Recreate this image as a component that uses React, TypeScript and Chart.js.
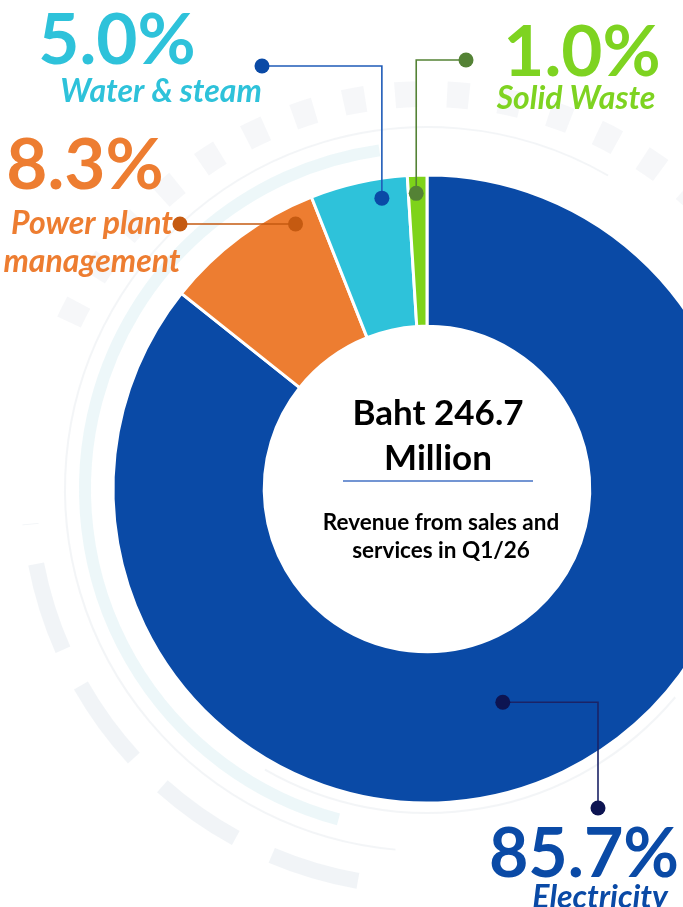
import { useEffect, useRef } from "react";
import { Chart, registerables } from "chart.js";

Chart.register(...registerables);

// ---- data ----
const categories = ["Electricity", "Power plant management", "Water & steam", "Solid Waste"];
const shares = [85.7, 8.3, 5.0, 1.0];
const percentLabels = ["85.7%", "8.3%", "5.0%", "1.0%"];
const categoryLines = [["Electricity"], ["Power plant", "management"], ["Water & steam"], ["Solid Waste"]];
const totalLines = ["Baht 246.7", "Million"];
const subtitleLines = ["Revenue from sales and", "services in Q1/26"];

// ---- styling / layout ----
const segmentColors = ["#0A4AA6", "#ED7D31", "#2EC2DA", "#7ED31A"];
const textColors = ["#0A4AA6", "#ED7D31", "#2EC2DA", "#7ED321"];
const dotColors = ["#0D1452", "#C55A11", "#0A4AA6", "#548235"];
const lineColors = ["#1B2366", "#C55A11", "#1F5BB8", "#548235"];

type Callout = {
  f: number;
  g: number;
  mode: "hv" | "vh" | "h";
  endX: number;
  endY: number;
  pct: { x: number; y: number };
  cat: { x: number; y: number; lh: number };
};

const callouts: Callout[] = [
  { f: 0.52, g: 0.42, mode: "hv", endX: 598, endY: 808, pct: { x: 584, y: 877 }, cat: { x: 600, y: 908, lh: 0 } },
  { f: 0.84, g: 0.88, mode: "h", endX: 180, endY: 0, pct: { x: 85, y: 189 }, cat: { x: 92, y: 234, lh: 38 } },
  { f: 0.71, g: 0.87, mode: "vh", endX: 262, endY: 66, pct: { x: 117, y: 64 }, cat: { x: 161, y: 102, lh: 0 } },
  { f: 0.42, g: 0.88, mode: "vh", endX: 466, endY: 60, pct: { x: 582, y: 76 }, cat: { x: 576, y: 109, lh: 0 } },
];

const FONT = "Lato, 'Noto Sans', sans-serif";

const backgroundPlugin = {
  id: "bgDeco",
  beforeDraw(chart: any) {
    const ctx = chart.ctx as CanvasRenderingContext2D;
    const meta = chart.getDatasetMeta(0);
    const arc = meta.data[0];
    if (!arc) return;
    const cx = arc.x;
    const cy = arc.y;
    ctx.save();
    ctx.fillStyle = "#ffffff";
    ctx.fillRect(0, 0, chart.width, chart.height);
    const deg = (d: number) => (d * Math.PI) / 180;
    // gray dashed outer ring
    ctx.strokeStyle = "rgba(228,233,240,0.5)";
    ctx.lineWidth = 16;
    ctx.setLineDash([90, 40]);
    ctx.beginPath();
    ctx.arc(cx, cy, 398, deg(100), deg(175));
    ctx.stroke();
    ctx.setLineDash([22, 30]);
    ctx.lineWidth = 26;
    ctx.strokeStyle = "rgba(232,235,240,0.4)";
    ctx.beginPath();
    ctx.arc(cx, cy, 395, deg(205), deg(320));
    ctx.stroke();
    ctx.setLineDash([]);
    // teal ring
    ctx.strokeStyle = "rgba(214,238,242,0.45)";
    ctx.lineWidth = 12;
    ctx.beginPath();
    ctx.arc(cx, cy, 342, deg(105), deg(262));
    ctx.stroke();
    // thin rings
    ctx.strokeStyle = "rgba(232,236,240,0.5)";
    ctx.lineWidth = 2;
    ctx.beginPath();
    ctx.arc(cx, cy, 362, deg(95), deg(300));
    ctx.stroke();
    ctx.beginPath();
    ctx.arc(cx, cy, 324, deg(40), deg(120));
    ctx.stroke();
    ctx.restore();
  },
};

const annotationPlugin = {
  id: "callouts",
  afterDraw(chart: any) {
    const ctx = chart.ctx as CanvasRenderingContext2D;
    const meta = chart.getDatasetMeta(0);
    ctx.save();
    meta.data.forEach((el: any, i: number) => {
      const p = el.getProps(["x", "y", "startAngle", "endAngle", "innerRadius", "outerRadius"], true);
      const c = callouts[i];
      const a = p.startAngle + c.f * (p.endAngle - p.startAngle);
      const r = p.innerRadius + c.g * (p.outerRadius - p.innerRadius);
      const sx = p.x + r * Math.cos(a);
      const sy = p.y + r * Math.sin(a);
      const pts: [number, number][] = [[sx, sy]];
      if (c.mode === "hv") {
        pts.push([c.endX, sy], [c.endX, c.endY]);
      } else if (c.mode === "vh") {
        pts.push([sx, c.endY], [c.endX, c.endY]);
      } else {
        pts.push([c.endX, sy]);
      }
      ctx.strokeStyle = lineColors[i];
      ctx.lineWidth = 1.6;
      ctx.beginPath();
      ctx.moveTo(pts[0][0], pts[0][1]);
      for (let k = 1; k < pts.length; k++) ctx.lineTo(pts[k][0], pts[k][1]);
      ctx.stroke();
      ctx.fillStyle = dotColors[i];
      const last = pts[pts.length - 1];
      [pts[0], last].forEach(([x, y]) => {
        ctx.beginPath();
        ctx.arc(x, y, 7.5, 0, Math.PI * 2);
        ctx.fill();
      });

      ctx.textAlign = "center";
      ctx.textBaseline = "alphabetic";
      ctx.fillStyle = textColors[i];
      ctx.font = `bold ${i === 0 ? 68 : 71}px ${FONT}`;
      ctx.fillText(percentLabels[i], c.pct.x, c.pct.y);
      ctx.font = `italic bold 32px ${FONT}`;
      categoryLines[i].forEach((line, k) => {
        ctx.fillText(line, c.cat.x, c.cat.y + k * c.cat.lh);
      });
    });

    ctx.fillStyle = "#000000";
    ctx.textAlign = "center";
    ctx.font = `bold 35px ${FONT}`;
    ctx.fillText(totalLines[0], 438, 425);
    ctx.fillText(totalLines[1], 438, 470);
    ctx.strokeStyle = "#4472C4";
    ctx.lineWidth = 1.5;
    ctx.beginPath();
    ctx.moveTo(343, 481);
    ctx.lineTo(533, 481);
    ctx.stroke();
    ctx.font = `bold 22.5px ${FONT}`;
    ctx.fillText(subtitleLines[0], 441, 530);
    ctx.fillText(subtitleLines[1], 441, 558);
    ctx.restore();
  },
};

export default function App() {
  const ref = useRef<HTMLCanvasElement | null>(null);
  useEffect(() => {
    if (!ref.current) return;
    const chart = new Chart(ref.current, {
      type: "doughnut",
      data: {
        labels: categories,
        datasets: [
          {
            data: shares,
            backgroundColor: segmentColors,
            borderColor: "#ffffff",
            borderWidth: 3,
            hoverOffset: 0,
            offset: 0,
          },
        ],
      },
      options: {
        responsive: false,
        animation: false,
        events: [],
        radius: 314,
        cutout: 162,
        rotation: 0,
        layout: { padding: { left: 113, right: 113, top: 175, bottom: 104 } },
        plugins: { legend: { display: false }, tooltip: { enabled: false } },
      } as any,
      plugins: [backgroundPlugin, annotationPlugin],
    });
    return () => chart.destroy();
  }, []);
  return (
    <div
      style={{
        position: "fixed",
        left: 0,
        top: 0,
        width: 683,
        height: 907,
        overflow: "hidden",
        background: "#ffffff",
      }}
    >
      <canvas ref={ref} width={854} height={907} style={{ width: 854, height: 907, display: "block" }} />
    </div>
  );
}
